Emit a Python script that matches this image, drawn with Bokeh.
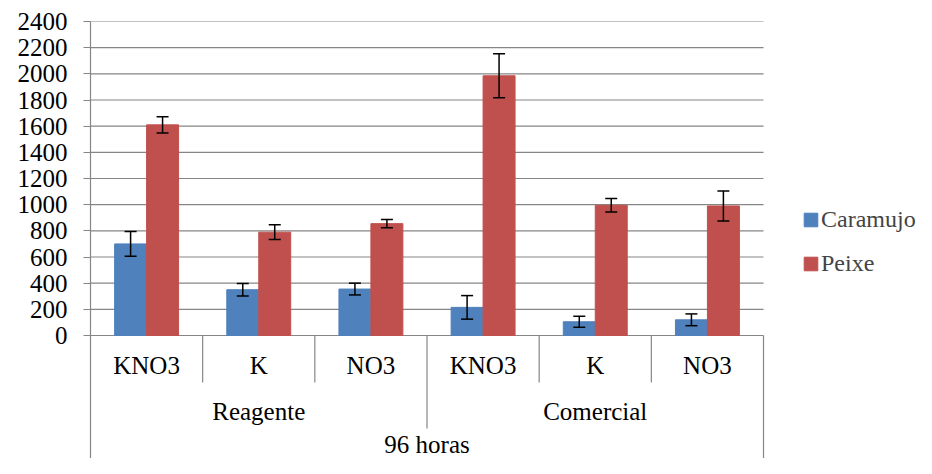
from bokeh.plotting import figure
from bokeh.models import (Range1d, FixedTicker, ColumnDataSource, Whisker, TeeHead,
                          Legend, LegendItem)
from bokeh.core.properties import value
from bokeh.embed import file_html
from bokeh.resources import INLINE

# ---------------- data ----------------
super_label = "96 horas"
groups = ["Reagente", "Comercial"]
categories = ["KNO3", "K", "NO3", "KNO3", "K", "NO3"]
series = ["Caramujo", "Peixe"]
caramujo = [700, 350, 355, 215, 105, 120]
caramujo_err = [95, 48, 45, 90, 42, 45]
peixe = [1610, 790, 855, 1985, 995, 990]
peixe_err = [62, 57, 32, 168, 52, 115]
y_ticks = [0, 200, 400, 600, 800, 1000, 1200, 1400, 1600, 1800, 2000, 2200, 2400]

# ---------------- layout ----------------
FONT = "Liberation Serif"
GRAY = "#868686"
BLUE = "#4F81BD"
RED = "#C0504D"
W, H = 916, 458
LEFT, TOP = 90, 21
FRAME_W, FRAME_H = W - LEFT, H - TOP
CAT_AREA_W = 673                  # pixels covered by the categories
PLOT_H = 314                      # pixels between 0 and the top tick
n = len(categories)
y_max = y_ticks[-1]
y_start = -y_max * (FRAME_H - PLOT_H) / PLOT_H
lab_bottom = FRAME_H - PLOT_H     # label area below zero line, in px
x_end = n * FRAME_W / CAT_AREA_W

p = figure(frame_width=FRAME_W, frame_height=FRAME_H,
           min_border_left=LEFT, min_border_top=TOP, min_border_bottom=0,
           min_border_right=0,
           x_range=Range1d(0, x_end), y_range=Range1d(y_start, y_max),
           x_axis_location=None, output_backend="svg", toolbar_location=None)
p.extra_y_ranges = {"lab": Range1d(start=lab_bottom, end=-PLOT_H)}
p.outline_line_color = None
p.xgrid.visible = False
p.ygrid.visible = False

ax = p.yaxis[0]
ax.ticker = FixedTicker(ticks=y_ticks)
ax.axis_line_color = GRAY
ax.axis_line_width = 1.2
ax.major_tick_line_color = GRAY
ax.major_tick_line_width = 1.2
ax.major_tick_in = 0
ax.major_tick_out = 7
ax.minor_tick_line_color = None
ax.major_label_text_font = FONT
ax.major_label_text_font_size = "25px"
ax.major_label_text_color = "black"
ax.major_label_standoff = 16

# horizontal gridlines, only across the category area
p.segment(x0=[0] * len(y_ticks), x1=[n] * len(y_ticks), y0=y_ticks, y1=y_ticks,
          line_color=GRAY, line_width=1.2, level="underlay")

# ---------------- bars ----------------
bar_w = 0.285
off = bar_w / 2
centers = [i + 0.5 for i in range(n)]
src = ColumnDataSource(dict(
    xc=[c - off for c in centers], xp=[c + off for c in centers],
    car=caramujo, pei=peixe,
    car_lo=[v - e for v, e in zip(caramujo, caramujo_err)],
    car_hi=[v + e for v, e in zip(caramujo, caramujo_err)],
    pei_lo=[v - e for v, e in zip(peixe, peixe_err)],
    pei_hi=[v + e for v, e in zip(peixe, peixe_err)],
))
r1 = p.vbar(x="xc", top="car", bottom=0, width=bar_w, source=src,
            fill_color=BLUE, line_color=BLUE)
r2 = p.vbar(x="xp", top="pei", bottom=0, width=bar_w, source=src,
            fill_color=RED, line_color=RED)

for base, lo, hi in (("xc", "car_lo", "car_hi"), ("xp", "pei_lo", "pei_hi")):
    w = Whisker(base=base, lower=lo, upper=hi, source=src, dimension="height",
                line_color="black", line_width=1.5, level="annotation",
                upper_head=TeeHead(size=12, line_color="black", line_width=1.5),
                lower_head=TeeHead(size=12, line_color="black", line_width=1.5))
    p.add_layout(w)

# ---------------- multi-level category axis ----------------
per_group = n // len(groups)
inner = [i for i in range(1, n) if i % per_group != 0]
group_b = [i for i in range(1, n) if i % per_group == 0]
sx = inner + group_b + [n]
sy1 = [47] * len(inner) + [93] * len(group_b) + [lab_bottom]
p.segment(x0=sx, y0=[0] * len(sx), x1=sx, y1=sy1, y_range_name="lab",
          line_color=GRAY, line_width=1.2)

txt = dict(text_font=value(FONT), text_font_size="25px", text_color="black",
           text_align="center", text_baseline="alphabetic", y_range_name="lab")
p.text(x=centers, y=[30] * n, text=categories, **txt)
p.text(x=[g * per_group + per_group / 2 for g in range(len(groups))],
       y=[76] * len(groups), text=groups, **txt)
p.text(x=[n / 2], y=[109], text=[super_label], **txt)

# ---------------- legend ----------------
legend = Legend(items=[LegendItem(label=series[0], renderers=[r1]),
                       LegendItem(label=series[1], renderers=[r2])],
                location=(712, 181), orientation="vertical",
                label_text_font=FONT, label_text_font_size="24px",
                glyph_width=17, glyph_height=17, label_standoff=2,
                spacing=17, padding=0, margin=0,
                border_line_alpha=0, background_fill_alpha=0)
p.add_layout(legend)

open("out.html", "w").write(file_html(p, INLINE))
